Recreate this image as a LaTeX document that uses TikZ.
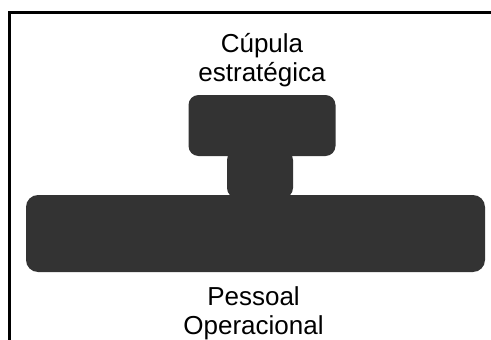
\documentclass[tikz,border=0pt]{standalone}
\usepackage{fontspec}
\setmainfont{Liberation Sans}
\usetikzlibrary{shapes, arrows, positioning}
\definecolor{cinza}{HTML}{333333}

\begin{document}
\begin{tikzpicture}[x=1pt, y=-1pt]

\tikzstyle{bloco} = [rectangle, fill=cinza, rounded corners=10pt, inner sep=0pt]
\tikzstyle{rotulo} = [text centered, align=center, inner sep=0pt, font=\fontsize{26}{28.5}\selectfont]
\tikzstyle{moldura} = [line width=2.2pt]

\useasboundingbox (0,0) rectangle (491,340);

\node (base) [bloco, rounded corners=12pt, minimum width=459pt, minimum height=77pt] at (255.5,233.5) {};
\node (meio) [bloco, minimum width=66pt, minimum height=48pt] at (260,174) {};
\node (cupula) [bloco, minimum width=147pt, minimum height=61pt] at (262,125.5) {};

\begin{scope}
\clip (0,0) rectangle (491,88);
\node (estrategica) [rotulo, above=8pt of cupula] {Cúpula\\estratégica};
\end{scope}

\node (operacional) [rotulo, below=14.5pt of base, xshift=-2pt] {Pessoal\\Operacional};

\coordinate (fundo) at (9.5,340);
\coordinate (canto) at (9.5,12.5);
\coordinate (direita) at (491,12.5);
\draw [moldura] (fundo) -- (canto) -- (direita);

\end{tikzpicture}
\end{document}
